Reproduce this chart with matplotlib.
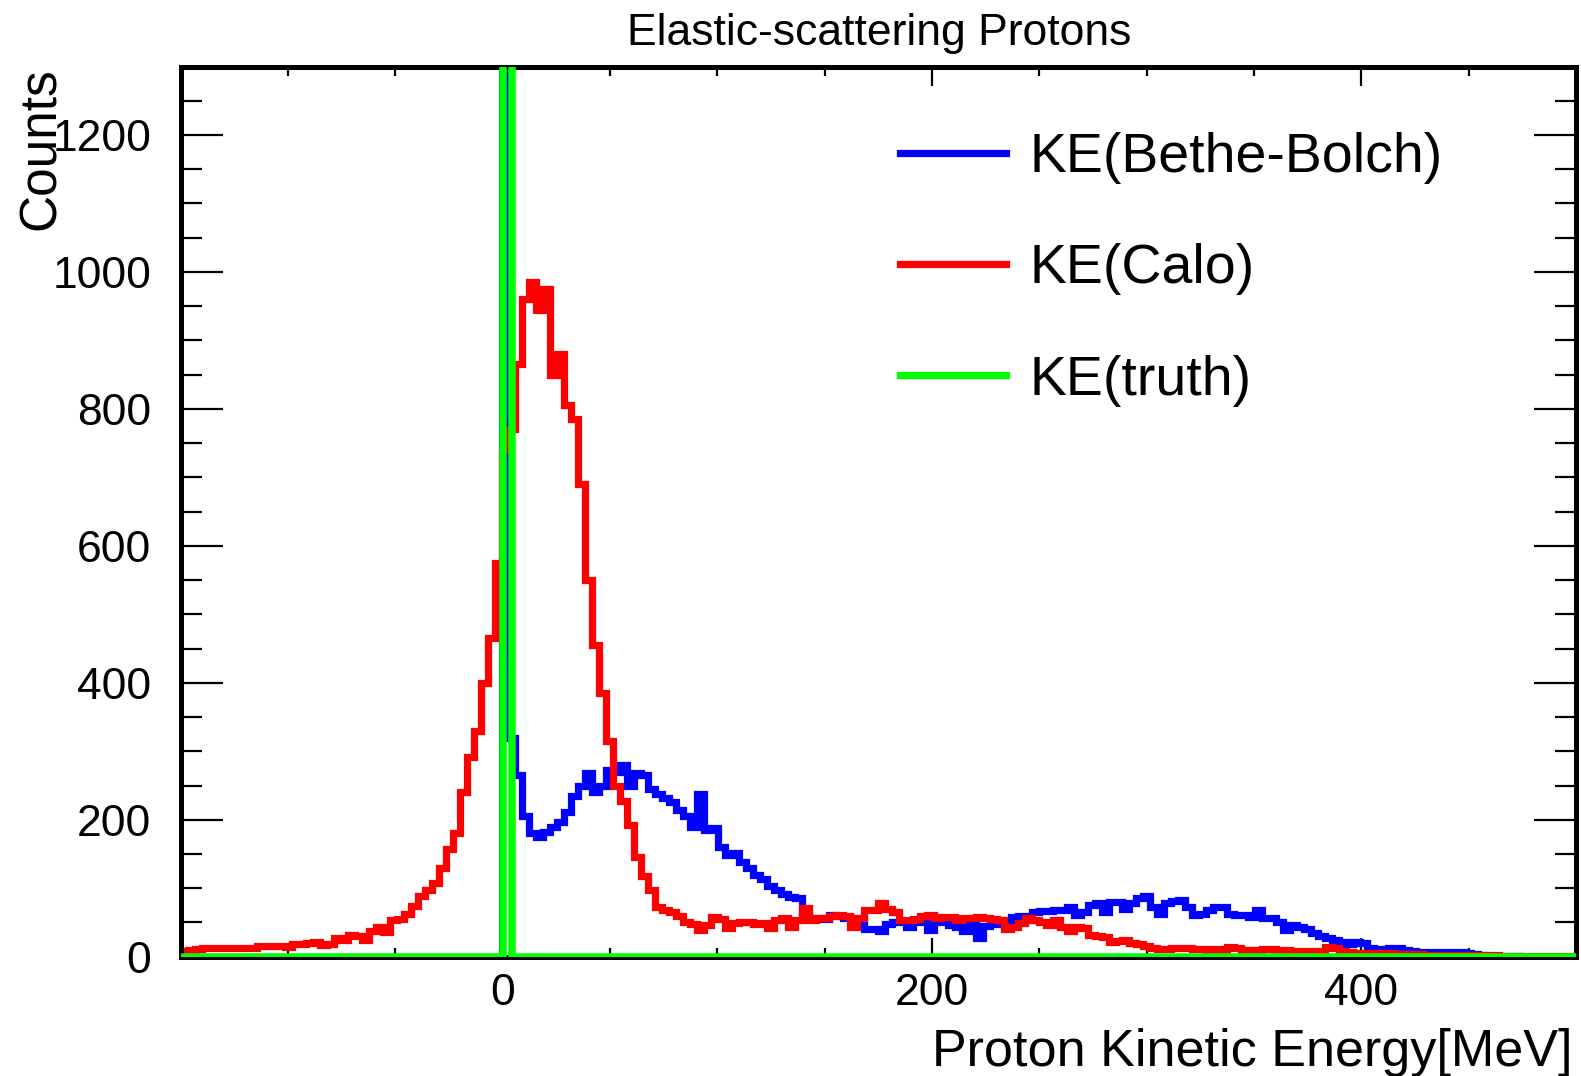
import numpy as np
import matplotlib
matplotlib.use("Agg")
import matplotlib.pyplot as plt
from matplotlib.lines import Line2D
from matplotlib.ticker import MultipleLocator

plt.rcParams['font.family'] = ['Liberation Sans', 'DejaVu Sans']

# ---------------- data ----------------
BIN_LO, BIN_HI, N_BINS = -150.0, 500.0, 200

ke_calo = [
    8, 10, 11, 12, 12, 12, 13, 13, 12, 12,
    12, 15, 15, 16, 16, 14, 18, 19, 20, 22,
    17, 19, 27, 25, 32, 30, 24, 38, 44, 36,
    53, 55, 62, 74, 88, 98, 108, 130, 158, 180,
    240, 292, 330, 400, 465, 575, 740, 770, 865, 960,
    985, 945, 975, 850, 880, 805, 785, 690, 550, 455,
    385, 315, 250, 228, 192, 145, 118, 97, 72, 68,
    66, 60, 50, 48, 39, 46, 58, 55, 42, 49,
    51, 50, 48, 49, 42, 54, 56, 44, 54, 71,
    54, 56, 57, 60, 61, 60, 44, 56, 68, 68,
    78, 70, 66, 53, 54, 55, 60, 61, 56, 58,
    58, 53, 56, 56, 58, 57, 55, 53, 41, 44,
    49, 56, 54, 51, 46, 54, 44, 37, 44, 42,
    32, 30, 29, 22, 23, 24, 20, 19, 15, 13,
    11, 11, 12, 12, 12, 11, 11, 10, 11, 10,
    14, 13, 10, 9, 10, 11, 11, 10, 10, 9,
    9, 9, 8, 9, 14, 13, 8, 7, 6, 6,
    6, 5, 5, 5, 4, 4, 4, 4, 3, 3,
    3, 3, 3, 2, 2, 2, 2, 2, 2, 1,
    1, 1, 1, 1, 1, 1, 1, 1, 1, 1,
]

ke_bethe_bloch = [0] * 46 + [
    5000, 320, 265, 205,
    180, 175, 182, 190, 197, 212, 234, 250, 268, 240,
    250, 272, 270, 280, 250, 268, 265, 245, 238, 232,
    226, 214, 205, 190, 238, 185, 188, 160, 148, 151,
    138, 130, 120, 113, 103, 97, 92, 87, 85, 64,
    57, 56, 55, 61, 60, 57, 56, 50, 41, 40,
    38, 48, 51, 51, 44, 50, 53, 39, 51, 51,
    47, 44, 37, 53, 28, 45, 49, 48, 46, 58,
    60, 53, 65, 67, 67, 68, 68, 72, 61, 65,
    75, 78, 66, 80, 80, 70, 78, 86, 88, 73,
    63, 78, 82, 83, 73, 61, 62, 68, 72, 73,
    63, 61, 61, 58, 68, 56, 56, 50, 39, 46,
    43, 40, 35, 30, 27, 24, 22, 19, 21, 20,
    12, 10, 11, 12, 12, 10, 9, 7, 7, 7,
    7, 7, 7, 7, 6, 4, 2, 1, 1, 1,
    0, 1, 0, 0, 0, 0, 0, 0, 0, 0,
]

truth_edges = [-150.0, 0.0, 4.25, 500.0]
ke_truth = [0, 30000, 0]

labels = ["KE(Bethe-Bolch)", "KE(Calo)", "KE(truth)"]
colors = ["#0000ff", "#ff0000", "#00ff00"]

xticks = [0, 200, 400]
yticks = [0, 200, 400, 600, 800, 1000, 1200]

edges = np.linspace(BIN_LO, BIN_HI, N_BINS + 1)

# ---------------- figure ----------------
W, H = 1581, 1076
fig = plt.figure(figsize=(W / 100, H / 100), dpi=100)
ax = fig.add_axes([180.6 / W, 1 - 956.7 / H, (1576 - 180.6) / W, (956.7 - 66.5) / H])

lw = 5.2
ax.stairs(ke_bethe_bloch, edges, color=colors[0], linewidth=lw, baseline=None, zorder=2)
ax.stairs(ke_calo, edges, color=colors[1], linewidth=lw, baseline=None, zorder=2.1)
ax.stairs(ke_truth, truth_edges, color=colors[2], linewidth=5.4, baseline=None, zorder=3)

ax.set_xlim(-150, 500)
ax.set_ylim(0, 1300)

ax.xaxis.set_major_locator(MultipleLocator(200))
ax.xaxis.set_minor_locator(MultipleLocator(50))
ax.yaxis.set_major_locator(MultipleLocator(200))
ax.yaxis.set_minor_locator(MultipleLocator(50))
ax.set_xticks(xticks)
ax.set_xticklabels([str(v) for v in xticks])
ax.set_yticks(yticks)
ax.set_yticklabels([str(v) for v in yticks])

ax.tick_params(axis='both', which='both', direction='in', top=True, right=True, width=1.6, colors='black')
ax.tick_params(axis='x', which='major', length=14, pad=12, labelsize=32)
ax.tick_params(axis='x', which='minor', length=6.5)
ax.tick_params(axis='y', which='major', length=30, pad=21, labelsize=32)
ax.tick_params(axis='y', which='minor', length=15)

for s in ax.spines.values():
    s.set_linewidth(3.6)

fig.text(879 / W, 1 - 45.4 / H, "Elastic-scattering Protons", ha='center', va='baseline', fontsize=32)
fig.text(1573 / W, 1 - 1066 / H, "Proton Kinetic Energy[MeV]", ha='right', va='baseline', fontsize=37.5)
fig.text(41.5 / W, 1 - 67.5 / H, "Counts", ha='center', va='top', rotation=90, fontsize=37)

handles = [Line2D([], [], color=c, linewidth=lw) for c in colors]
ax.legend(handles, labels, loc='upper left', bbox_to_anchor=(900 / W, 1 - 132 / H),
          bbox_transform=fig.transFigure, frameon=False, fontsize=40,
          handlelength=1.9, handletextpad=0.43, labelspacing=1.07,
          borderpad=0, borderaxespad=0)

fig.savefig("out.png", dpi=100)
